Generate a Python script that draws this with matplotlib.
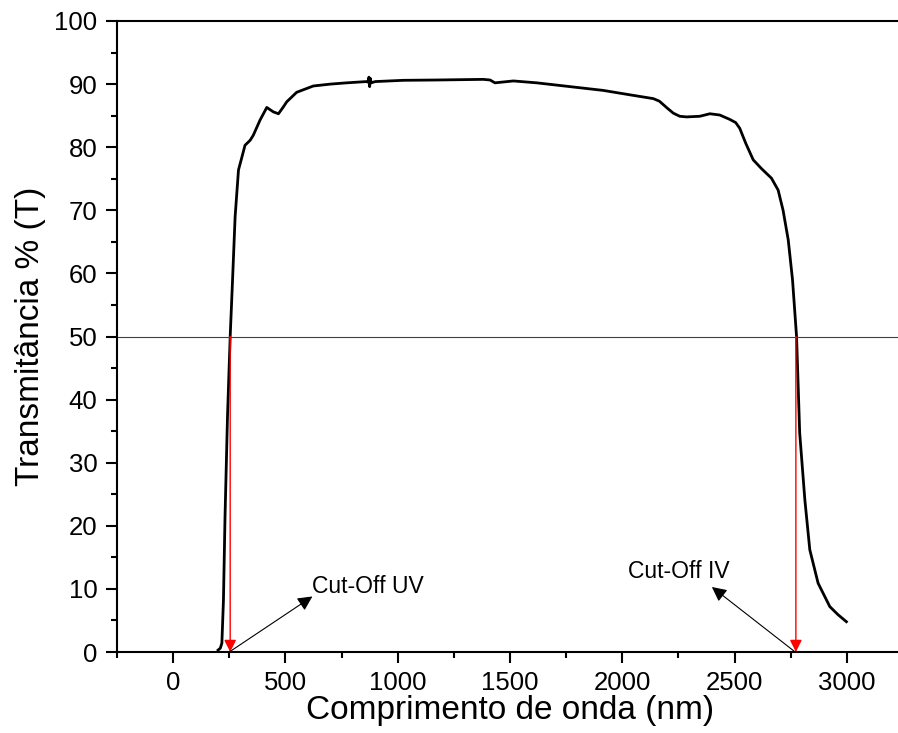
import matplotlib.pyplot as plt
from matplotlib.ticker import MultipleLocator

plt.rcParams['font.family'] = ['Liberation Sans', 'DejaVu Sans']

# Espectro de transmitância
comprimento = [200, 210, 217, 224, 231, 242, 254, 264, 276, 291, 306, 320, 343, 357,
               387, 417, 446, 469, 491, 506, 550, 624, 700, 773, 860, 868, 872, 875,
               878, 882, 900, 1025, 1174, 1381, 1411, 1433, 1515, 1619, 1767, 1915,
               2034, 2138, 2165, 2200, 2227, 2256, 2286, 2345, 2390, 2434, 2479, 2505,
               2523, 2550, 2583, 2620, 2664, 2694, 2716, 2739, 2758, 2776, 2790, 2813,
               2835, 2872, 2924, 2961, 2998]
transmitancia = [0.3, 0.6, 1.4, 8.2, 21.4, 37.3, 50.0, 58.5, 69.0, 76.4, 78.4, 80.3, 81.1, 81.9,
                 84.3, 86.3, 85.6, 85.3, 86.4, 87.2, 88.7, 89.7, 90.0, 90.2, 90.4, 90.3, 91.1, 89.6,
                 90.9, 90.2, 90.4, 90.6, 90.65, 90.75, 90.65, 90.2, 90.5, 90.2, 89.6, 89.0,
                 88.3, 87.7, 87.3, 86.2, 85.4, 84.9, 84.8, 84.9, 85.3, 85.1, 84.4, 83.9,
                 83.0, 80.6, 78.0, 76.6, 75.1, 73.2, 70.0, 65.3, 59.0, 50.0, 34.7, 24.1,
                 16.2, 10.9, 7.2, 5.9, 4.8]

cutoff_uv = 254
cutoff_iv = 2773

fig = plt.figure(figsize=(8.98, 7.33), dpi=100)
ax = fig.add_axes([117 / 898, 81 / 733, 786 / 898, 631 / 733])

ax.plot(comprimento, transmitancia, color='black', lw=2.0, solid_joinstyle='round')
ax.axhline(50, color='#404040', lw=0.8)

# Setas vermelhas do cut-off
for xc in [cutoff_uv, cutoff_iv]:
    ax.annotate('', xy=(xc, 0), xytext=(xc, 50),
                arrowprops=dict(arrowstyle='-|>', color='red', lw=1.0,
                                mutation_scale=18, shrinkA=0, shrinkB=0))

# Setas pretas para os rótulos
ax.annotate('', xy=(620, 8.8), xytext=(250, 0),
            arrowprops=dict(arrowstyle='-|>', color='black', lw=0.8,
                            mutation_scale=22, shrinkA=0, shrinkB=0))
ax.annotate('', xy=(2399, 10.3), xytext=(2770, 0),
            arrowprops=dict(arrowstyle='-|>', color='black', lw=0.8,
                            mutation_scale=22, shrinkA=0, shrinkB=0))
ax.text(619, 9.35, 'Cut-Off UV', fontsize=16.5, va='baseline', ha='left')
ax.text(2025, 11.7, 'Cut-Off IV', fontsize=16.5, va='baseline', ha='left')

ax.set_xlim(-250, 3250)
ax.set_ylim(0, 100)
ax.xaxis.set_major_locator(MultipleLocator(500))
ax.xaxis.set_minor_locator(MultipleLocator(250))
ax.yaxis.set_major_locator(MultipleLocator(10))
ax.yaxis.set_minor_locator(MultipleLocator(5))
ax.set_xticks(range(0, 3001, 500))

ax.tick_params(which='major', direction='out', length=8, width=1.5, labelsize=18.5, pad=6)
ax.tick_params(which='minor', direction='out', length=4, width=1.5)
for s in ['left', 'bottom', 'top']:
    ax.spines[s].set_linewidth(1.5)
ax.spines['right'].set_visible(False)

ax.set_xlabel('Comprimento de onda (nm)', fontsize=24, labelpad=0)
ax.set_ylabel('Transmitância % (T)', fontsize=24, labelpad=6)

fig.savefig('out.png', dpi=100)
